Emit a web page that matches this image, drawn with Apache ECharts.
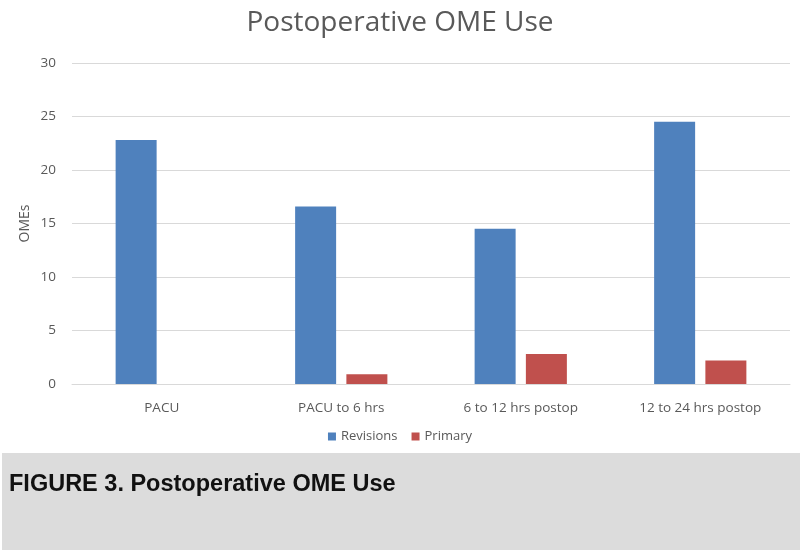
<!DOCTYPE html>
<html><head><meta charset="utf-8">
<script src="https://cdn.jsdelivr.net/npm/echarts@6/dist/echarts.min.js"></script>
<style>html,body{margin:0;padding:0;background:#fff}#c{width:800px;height:550px}</style>
</head><body><div id="c"></div>
<script>
const categories = ['PACU', 'PACU to 6 hrs', '6 to 12 hrs postop', '12 to 24 hrs postop'];
const revisions = [22.8, 16.6, 14.5, 24.5];
const primary = [0, 0.9, 2.8, 2.2];
const yTicks = {min: 0, max: 30, interval: 5};

const chart = echarts.init(document.getElementById('c'), null, {renderer: 'canvas'});
const font = '"Open Sans", "Liberation Sans", sans-serif';
chart.setOption({
  animation: false,
  backgroundColor: '#fff',
  title: {
    text: 'Postoperative OME Use', left: 'center', top: 4,
    textStyle: {fontFamily: font, fontWeight: 'normal', fontSize: 28, color: '#595959'}
  },
  legend: {
    data: ['Revisions', 'Primary'], bottom: 102, left: 'center',
    itemWidth: 8, itemHeight: 8, itemGap: 14, icon: 'rect',
    textStyle: {fontFamily: font, fontSize: 13, color: '#595959'}
  },
  grid: {left: 72, right: 10, top: 63, bottom: 166},
  xAxis: {
    type: 'category', data: categories,
    axisLine: {lineStyle: {color: '#d9d9d9', width: 1}},
    axisTick: {show: false},
    axisLabel: {fontFamily: font, fontSize: 13.5, color: '#595959', margin: 17}
  },
  yAxis: {
    type: 'value', min: yTicks.min, max: yTicks.max, interval: yTicks.interval,
    name: 'OMEs', nameLocation: 'middle', nameGap: 40, nameMoveOverlap: false,
    nameTextStyle: {fontFamily: font, fontSize: 14, color: '#595959'},
    axisLine: {show: false}, axisTick: {show: false},
    axisLabel: {fontFamily: font, fontSize: 13.5, color: '#595959', margin: 16},
    splitLine: {lineStyle: {color: '#d9d9d9', width: 1}}
  },
  series: [
    {name: 'Revisions', type: 'bar', data: revisions, barWidth: 41, barGap: '25%',
     itemStyle: {color: '#4f81bd'}},
    {name: 'Primary', type: 'bar', data: primary, barWidth: 41,
     itemStyle: {color: '#c0504d'}}
  ],
  graphic: [
    {type: 'rect', shape: {x: 2, y: 453, width: 798, height: 97}, style: {fill: '#dcdcdc'}, z: -1},
    {type: 'text', left: 9, top: 473, style: {text: 'FIGURE 3. Postoperative OME Use',
      font: 'bold 23.5px "Liberation Sans", Arial, sans-serif', fill: '#111'}}
  ]
});
</script></body></html>
